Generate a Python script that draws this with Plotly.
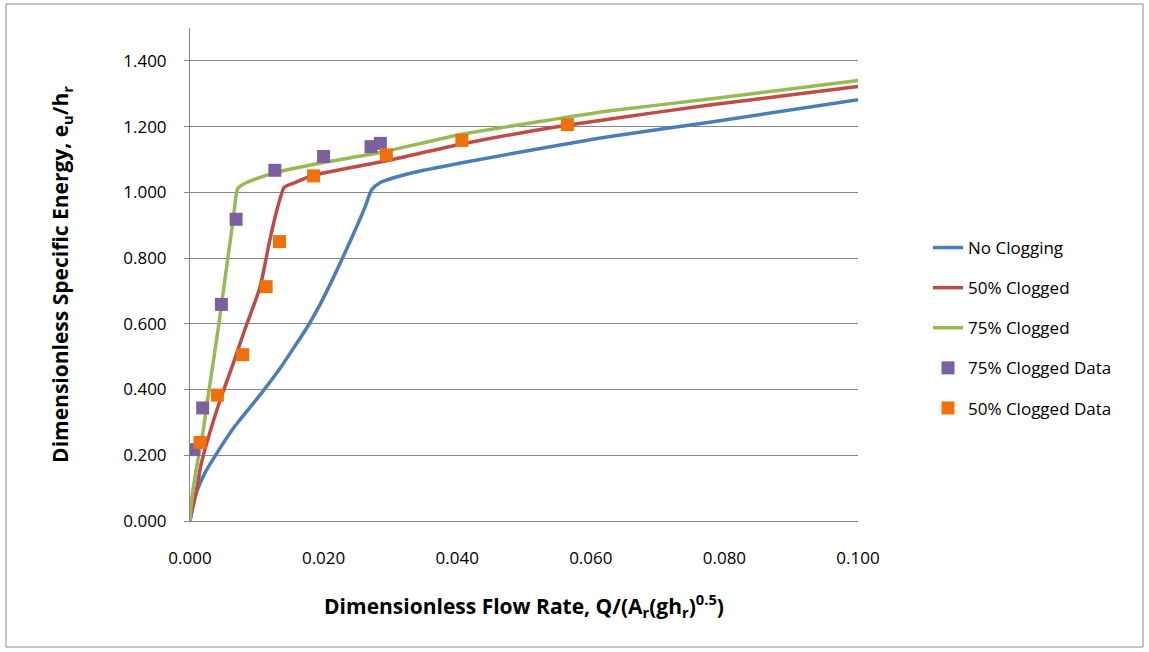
import plotly.graph_objects as go

# Model curves: dimensionless flow rate vs. dimensionless specific energy
q_none = [0.0, 0.00075, 0.0022, 0.0037, 0.0067, 0.0107, 0.0137, 0.0157, 0.0175, 0.0195,
          0.0215, 0.0240, 0.0262, 0.0272, 0.0285, 0.0330, 0.0407, 0.0554, 0.0629, 0.0778, 0.100]
e_none = [0.0, 0.074, 0.145, 0.196, 0.288, 0.389, 0.471, 0.532, 0.588, 0.660,
          0.742, 0.852, 0.955, 1.008, 1.030, 1.058, 1.090, 1.144, 1.170, 1.213, 1.282]

q_50 = [0.0, 0.0003, 0.0008, 0.0017, 0.0031, 0.0047, 0.0065, 0.0082, 0.0105, 0.0119,
        0.0129, 0.0137, 0.0141, 0.0155, 0.0185, 0.0294, 0.0407, 0.0554, 0.0629, 0.0778, 0.100]
e_50 = [0.0, 0.030, 0.074, 0.176, 0.278, 0.379, 0.481, 0.582, 0.713, 0.850,
        0.938, 0.995, 1.015, 1.028, 1.052, 1.096, 1.147, 1.201, 1.223, 1.266, 1.322]

q_75 = [0.0, 0.0003, 0.0011, 0.0020, 0.0027, 0.0042, 0.0054, 0.0064, 0.0069, 0.0072,
        0.0085, 0.0127, 0.0200, 0.0285, 0.0407, 0.0554, 0.0629, 0.0778, 0.100]
e_75 = [0.0, 0.074, 0.176, 0.278, 0.379, 0.582, 0.760, 0.908, 0.990, 1.013,
        1.030, 1.060, 1.091, 1.121, 1.177, 1.225, 1.248, 1.284, 1.340]

# Measured data
q_75_data = [0.0005, 0.0019, 0.0047, 0.0069, 0.0127, 0.0200, 0.0271, 0.0285]
e_75_data = [0.217, 0.344, 0.659, 0.918, 1.067, 1.109, 1.139, 1.149]

q_50_data = [0.0015, 0.0041, 0.0079, 0.0114, 0.0134, 0.0185, 0.0294, 0.0407, 0.0565]
e_50_data = [0.239, 0.383, 0.506, 0.713, 0.850, 1.050, 1.114, 1.158, 1.206]

y_ticks = [0.0, 0.2, 0.4, 0.6, 0.8, 1.0, 1.2, 1.4]
x_ticks = [0.0, 0.02, 0.04, 0.06, 0.08, 0.10]

FONT = "Open Sans"

fig = go.Figure()
fig.add_trace(go.Scatter(x=q_none, y=e_none, mode="lines", name="No Clogging",
                         line=dict(color="#4A7EBB", width=3.5, shape="spline", smoothing=0.6),
                         legendgroup="a"))
fig.add_trace(go.Scatter(x=q_50, y=e_50, mode="lines", name="50% Clogged",
                         line=dict(color="#BE4B48", width=3.5, shape="spline", smoothing=0.6),
                         legendgroup="b"))
fig.add_trace(go.Scatter(x=q_75, y=e_75, mode="lines", name="75% Clogged",
                         line=dict(color="#98B954", width=3.5, shape="spline", smoothing=0.6),
                         legendgroup="c"))
fig.add_trace(go.Scatter(x=q_75_data, y=e_75_data, mode="markers", name="75% Clogged Data",
                         marker=dict(symbol="square", size=13, color="#7D60A0"), legendgroup="d"))
fig.add_trace(go.Scatter(x=q_50_data, y=e_50_data, mode="markers", name="50% Clogged Data",
                         marker=dict(symbol="square", size=13, color="#F0700C"), legendgroup="e"))

L, R, T, B = 190, 291, 28, 131
W, H = 1149, 652
pw, ph = W - L - R, H - T - B

fig.update_layout(
    width=W, height=H,
    margin=dict(l=L, r=R, t=T, b=B),
    paper_bgcolor="white", plot_bgcolor="white",
    font=dict(family=FONT, size=17, color="#000000"),
    showlegend=True,
    legend=dict(x=(928 - L) / pw, y=(521 - 230) / ph, xanchor="left", yanchor="top",
                traceorder="grouped", tracegroupgap=15,
                font=dict(family=FONT, size=17), bgcolor="rgba(0,0,0,0)"),
    xaxis=dict(range=[0, 0.1], tickvals=x_ticks, tickformat=".3f",
               showgrid=False, zeroline=False, showline=True, linecolor="#868686",
               linewidth=1, ticks="", tickfont=dict(size=17), ticklabelstandoff=22,
               title=dict(text="<b>Dimensionless Flow Rate, Q/(A<sub>r</sub>(gh<sub>r</sub>)<sup>0.5</sup>)</b>",
                          font=dict(size=21), standoff=30)),
    yaxis=dict(range=[0, 1.5], tickvals=y_ticks, tickformat=".3f",
               showgrid=True, gridcolor="#868686", gridwidth=1, zeroline=False,
               showline=True, linecolor="#868686", linewidth=1,
               ticks="outside", ticklen=5, tickcolor="#868686", tickfont=dict(size=17),
               ticklabelstandoff=14,
               title=dict(text="<b>Dimensionless Specific Energy, e<sub>u</sub>/h<sub>r</sub></b>",
                          font=dict(size=21), standoff=48)),
)

# Outer chart border
fig.add_shape(type="rect", xref="paper", yref="paper",
              x0=(6 - L) / pw, x1=(1143 - L) / pw,
              y0=(521 - 647) / ph, y1=(521 - 4) / ph,
              line=dict(color="#8A8A8A", width=1), fillcolor="rgba(0,0,0,0)", layer="below")

fig.write_html("out.html")
